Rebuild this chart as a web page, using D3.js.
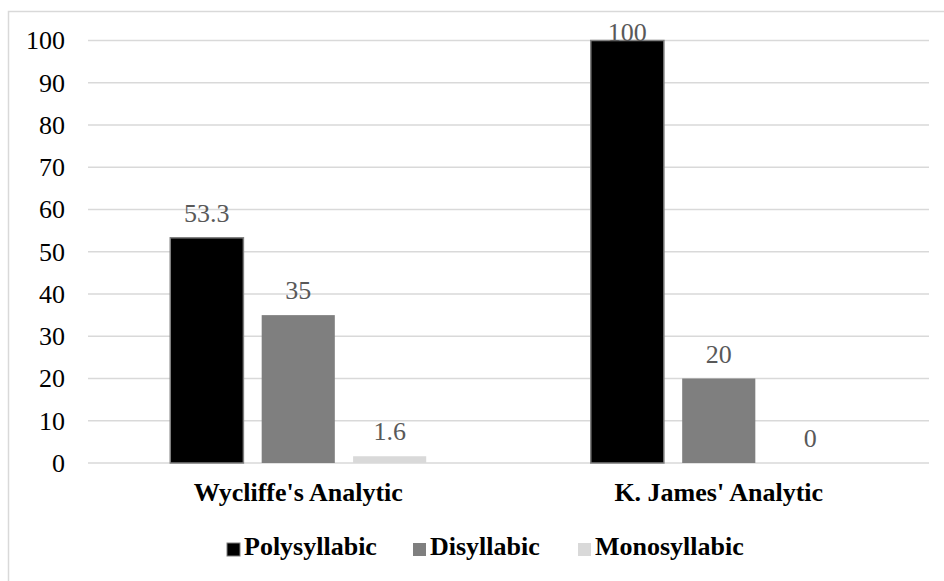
<!DOCTYPE html>
<html>
<head>
<meta charset="utf-8">
<script src="https://cdn.jsdelivr.net/npm/d3@7/dist/d3.min.js"></script>
</head>
<body>
<svg id="chart" width="944" height="581"></svg>
<script>
// Share of syllable types per analytic construction
const categories = ["Wycliffe's Analytic", "K. James' Analytic"];
const seriesNames = ["Polysyllabic", "Disyllabic", "Monosyllabic"];
const polysyllabic = [53.3, 100];
const disyllabic = [35, 20];
const monosyllabic = [1.6, 0];
const yTicks = [0, 10, 20, 30, 40, 50, 60, 70, 80, 90, 100];

const seriesValues = [polysyllabic, disyllabic, monosyllabic];
const colors = ["#000000", "#7f7f7f", "#d9d9d9"];
const strokes = ["#7f7f7f", "none", "none"];

const serifName = "Liberation Serif";
const family = () => `"${serifName}"`;

d3.select("body").style("margin", "0px");
const svg = d3.select("#chart")
  .style("display", "block")
  .style("font-family", family)
  .attr("font-family", serifName);

// outer chart frame
svg.append("rect")
  .attr("x", 8.5).attr("y", 11.5)
  .attr("width", 960).attr("height", 600)
  .attr("fill", "none").attr("stroke", "#d9d9d9").attr("stroke-width", 1.5);

const plot = { left: 88, right: 929, top: 40.5, bottom: 463 };

const x0 = d3.scaleBand().domain(categories).range([plot.left, plot.right]).paddingInner(0).paddingOuter(0);
const x1 = d3.scaleBand().domain(seriesNames).range([0, x0.bandwidth()]).paddingInner(0.2).paddingOuter(0.9);
const y = d3.scaleLinear().domain([0, 100]).range([plot.bottom, plot.top]);

// gridlines
svg.append("g").selectAll("line").data(yTicks).join("line")
  .attr("x1", plot.left).attr("x2", plot.right)
  .attr("y1", d => y(d)).attr("y2", d => y(d))
  .attr("stroke", "#d9d9d9").attr("stroke-width", 1.5);

// y axis labels, drawn as plain text from the scale
svg.append("g").selectAll("text").data(yTicks).join("text")
  .attr("x", 65).attr("y", d => y(d)).attr("dy", "0.34em")
  .attr("text-anchor", "end")
  .style("font-family", family).style("font-size", "26px")
  .attr("fill", "#000")
  .text(d => d);

// bars and value labels
const groups = svg.append("g").selectAll("g").data(categories).join("g")
  .attr("transform", d => `translate(${x0(d)},0)`);

groups.each(function(cat, ci) {
  const g = d3.select(this);
  seriesNames.forEach((s, si) => {
    const v = seriesValues[si][ci];
    g.append("rect")
      .attr("x", x1(s)).attr("width", x1.bandwidth())
      .attr("y", y(v)).attr("height", y(0) - y(v))
      .attr("fill", colors[si])
      .attr("stroke", strokes[si]).attr("stroke-width", 1.5);
    const ly = Math.max(y(v) - 16, plot.top);
    g.append("text")
      .attr("x", x1(s) + x1.bandwidth() / 2).attr("y", ly)
      .attr("text-anchor", "middle")
      .style("font-family", family).style("font-size", "26px")
      .attr("fill", "#595959")
      .text(v);
  });
});

// category labels
svg.append("g").selectAll("text").data(categories).join("text")
  .attr("x", d => x0(d) + x0.bandwidth() / 2).attr("y", 501)
  .attr("text-anchor", "middle")
  .style("font-family", family).style("font-size", "26px").style("font-weight", "bold")
  .attr("fill", "#000")
  .text(d => d);

// legend
const legendX = [227, 413, 578];
const legend = svg.append("g").selectAll("g").data(seriesNames).join("g")
  .attr("transform", (d, i) => `translate(${legendX[i]},0)`);
legend.append("rect")
  .attr("x", 0).attr("y", 543).attr("width", 13).attr("height", 13)
  .attr("fill", (d, i) => colors[i])
  .attr("stroke", (d, i) => strokes[i]).attr("stroke-width", 1);
legend.append("text")
  .attr("x", 17).attr("y", 555)
  .style("font-family", family).style("font-size", "26px").style("font-weight", "bold")
  .attr("fill", "#000")
  .text(d => d);
</script>
</body>
</html>
